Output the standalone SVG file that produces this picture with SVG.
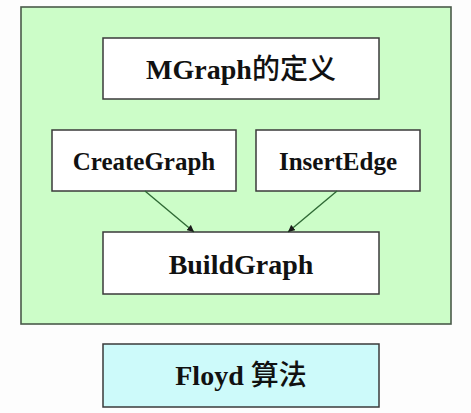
<svg xmlns="http://www.w3.org/2000/svg" width="471" height="413" viewBox="0 0 471 413">
<defs>
<style>
.box{fill:#ffffff;stroke:#3a3a3a;stroke-width:1.5}
.t{font-family:"Liberation Serif","Noto Sans CJK SC",serif;font-weight:bold;fill:#111;text-anchor:middle}
.cjk{font-family:"Noto Sans CJK SC",sans-serif;font-weight:500}
.edge{stroke:#2f6a35;stroke-width:1.4;fill:none;marker-end:url(#ah)}
</style>
<marker id="ah" viewBox="0 0 10 10" refX="10" refY="5" markerWidth="7" markerHeight="7" markerUnits="userSpaceOnUse" orient="auto">
<path d="M0,0 L10,5 L0,10 z" fill="#1a1a1a"/>
</marker>
</defs>
<rect width="471" height="413" fill="#fdfdfd"/>
<g id="cluster">
<rect x="21" y="7" width="430" height="317" fill="#ccfdc8" stroke="#4a5a4a" stroke-width="1.6"/>
</g>
<g id="mgraph">
<rect class="box" x="103" y="38" width="276" height="61"/>
<text class="t" x="241" y="79" font-size="28">MGraph<tspan class="cjk">的定义</tspan></text>
</g>
<g id="creategraph">
<rect class="box" x="52" y="130" width="184" height="61"/>
<text class="t" x="144" y="170" font-size="25">CreateGraph</text>
</g>
<g id="insertedge">
<rect class="box" x="256" y="130" width="164" height="61"/>
<text class="t" x="338" y="170" font-size="25">InsertEdge</text>
</g>
<g id="buildgraph">
<rect class="box" x="103" y="232" width="276" height="62"/>
<text class="t" x="241" y="274" font-size="28">BuildGraph</text>
</g>
<g id="floyd">
<rect x="103" y="344" width="276" height="63" fill="#cdfafa" stroke="#3a3a3a" stroke-width="1.5"/>
<text class="t" x="241" y="385" font-size="28">Floyd <tspan class="cjk">算法</tspan></text>
</g>
<g id="connectors">
<line class="edge" x1="145" y1="191" x2="194" y2="232"/>
<line class="edge" x1="337" y1="191" x2="288" y2="232"/>
</g>
</svg>
